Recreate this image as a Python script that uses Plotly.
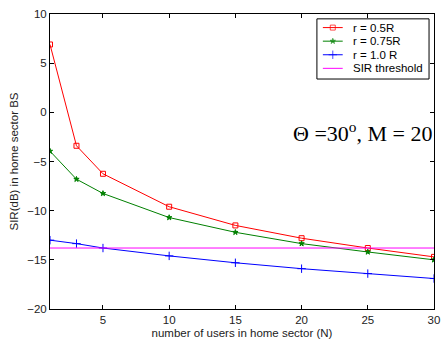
import plotly.graph_objects as go

users = [1, 3, 5, 10, 15, 20, 25, 30]
sir_r05 = [6.9, -3.4, -6.25, -9.6, -11.5, -12.8, -13.8, -14.7]
sir_r075 = [-3.95, -6.8, -8.25, -10.7, -12.2, -13.35, -14.2, -15.0]
sir_r10 = [-13.0, -13.35, -13.8, -14.6, -15.3, -15.9, -16.4, -16.9]
threshold_x = [1, 30]
threshold_y = [-13.8, -13.8]

series_names = ["r = 0.5R", "r = 0.75R", "r = 1.0 R", "SIR threshold"]
series_colors = ["#ff0000", "#008000", "#0000ff", "#ff00ff"]
series_symbols = ["square-open", "star", "cross-thin-open", None]
series_sizes = [5, 4, 6, 0]

x_ticks = [5, 10, 15, 20, 25, 30]
y_ticks = [-20, -15, -10, -5, 0, 5, 10]

FONT = "Liberation Sans, Arial, sans-serif"

fig = go.Figure()
data_y = [sir_r05, sir_r075, sir_r10]
for name, yv, col, sym, sz in zip(series_names[:3], data_y, series_colors, series_symbols, series_sizes):
    fig.add_trace(go.Scatter(x=users, y=yv, mode="lines+markers", name=name, showlegend=False,
                             line=dict(color=col, width=1),
                             marker=dict(symbol=sym, size=sz, color=col, line=dict(width=1, color=col))))
fig.add_trace(go.Scatter(x=threshold_x, y=threshold_y, mode="lines", name=series_names[3], showlegend=False,
                         line=dict(color=series_colors[3], width=1)))

# manual compact legend drawn in an overlay pixel-coordinate axis
PW, PH = 387, 304
box = dict(x0=269, x1=382, y0=5, y1=67)
row_y0, row_dy = 14, 14
fig.add_shape(type="rect", xref="x2", yref="y2", x0=box["x0"], x1=box["x1"], y0=box["y0"], y1=box["y1"],
              line=dict(color="black", width=1), fillcolor="white", layer="below")
for i, (name, col, sym, sz) in enumerate(zip(series_names, series_colors, series_symbols, series_sizes)):
    ry = row_y0 + i * row_dy
    fig.add_trace(go.Scatter(x=[275, 285, 295], y=[ry, ry, ry], xaxis="x2", yaxis="y2",
                             mode="lines+markers" if sym else "lines", showlegend=False, hoverinfo="skip",
                             line=dict(color=col, width=1),
                             marker=dict(symbol=sym or "circle", size=[0, sz, 0], color=col,
                                         line=dict(width=1, color=col))))
    fig.add_annotation(x=303, y=ry, xref="x2", yref="y2", text=name, showarrow=False,
                       xanchor="left", yanchor="middle",
                       font=dict(family=FONT, size=11.5, color="black"))

fig.add_annotation(x=1.0, y=-2.0, xref="paper", yref="y", text="Θ =30<sup>o</sup>, M = 20",
                   showarrow=False, xanchor="right", yanchor="middle",
                   font=dict(family="Liberation Serif, Times New Roman, serif", size=22, color="black"))

axis_common = dict(showgrid=False, zeroline=False, showline=True, linecolor="black", linewidth=1,
                   mirror="ticks", ticks="inside", ticklen=4, tickcolor="black",
                   tickfont=dict(family=FONT, size=11.5, color="#222222"))

fig.update_xaxes(range=[1, 30], tickvals=x_ticks,
                 title=dict(text="number of users in home sector (N)", standoff=4,
                            font=dict(family=FONT, size=11.5, color="#222222")),
                 **axis_common)
fig.update_yaxes(range=[-20, 10], tickvals=y_ticks,
                 title=dict(text="SIR(dB) in home sector BS", standoff=6,
                            font=dict(family=FONT, size=11.5, color="#222222")),
                 **axis_common)

fig.update_layout(
    width=448, height=346,
    margin=dict(l=50, r=11, t=8, b=34),
    paper_bgcolor="white", plot_bgcolor="white",
    showlegend=False,
    xaxis2=dict(overlaying="x", range=[0, PW], visible=False, fixedrange=True),
    yaxis2=dict(overlaying="y", range=[PH, 0], visible=False, fixedrange=True),
)

fig.write_html("out.html", config={"displayModeBar": False},
               post_script="document.body.style.margin='0';document.body.style.overflow='hidden';")
